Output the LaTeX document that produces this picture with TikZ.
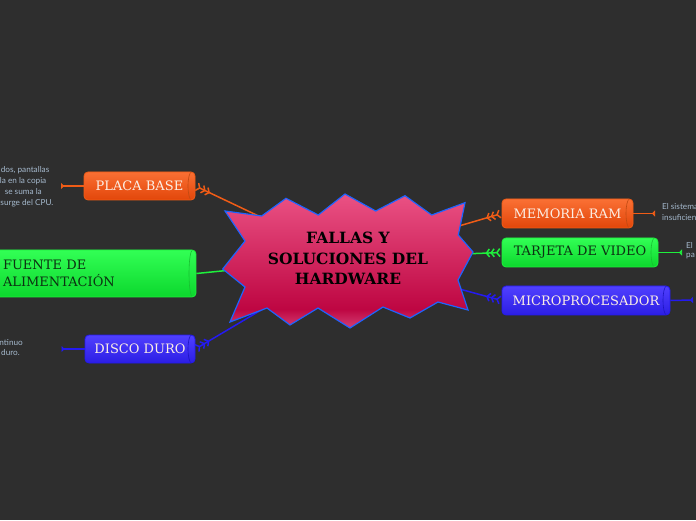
\documentclass[tikz,border=0pt]{standalone}
\usepackage{fontspec}
\setmainfont{Liberation Serif}
\newfontfamily\boxfont{DejaVu Serif}
\newfontfamily\starfont{DejaVu Serif}
\newfontfamily\notefont{Lato}
\usetikzlibrary{arrows.meta}
\pgfdeclarelayer{back}
\pgfdeclarelayer{bg}
\pgfsetlayers{back,bg,main}
\definecolor{bgc}{RGB}{46,46,46}
\definecolor{orgL}{RGB}{240,92,22}
\definecolor{orgT}{RGB}{250,112,52}
\definecolor{orgB}{RGB}{226,70,10}
\definecolor{grnL}{RGB}{30,240,60}
\definecolor{grnT}{RGB}{50,255,85}
\definecolor{grnB}{RGB}{12,215,45}
\definecolor{bluL}{RGB}{36,26,240}
\definecolor{bluT}{RGB}{80,64,255}
\definecolor{bluB}{RGB}{44,30,228}
\definecolor{notec}{RGB}{165,185,205}
\definecolor{starb}{RGB}{30,100,255}
\definecolor{pkT}{RGB}{234,82,132}
\definecolor{pkD}{RGB}{190,6,66}
\definecolor{pkL}{RGB}{212,64,116}
\definecolor{lbl}{RGB}{252,238,228}
\definecolor{lblg}{RGB}{12,50,18}
\pgfdeclareverticalshading{starsh}{100bp}{color(0bp)=(pkL); color(25bp)=(pkL); color(32bp)=(pkD); color(75bp)=(pkT); color(100bp)=(pkT)}
\tikzset{
  cyl/.style n args={3}{rectangle, rounded corners=4pt, draw=#1, line width=0.8pt,
    top color=#2, bottom color=#3, inner sep=0pt,
    path picture={\draw[#1!80!black, line width=0.6pt]
      ([xshift=-3.5pt]path picture bounding box.north east)
      arc[start angle=90, end angle=270, x radius=3.5pt, y radius=0.5*\pgfkeysvalueof{/pgf/minimum height}];}},
  cylo/.style={cyl={orgL}{orgT}{orgB}, text=lbl, font=\boxfont\fontsize{13}{14}\selectfont},
  cylg/.style={cyl={grnL}{grnT}{grnB}, text=lblg, font=\boxfont\fontsize{13}{14}\selectfont},
  cylb/.style={cyl={bluL}{bluT}{bluB}, text=lbl, font=\boxfont\fontsize{13}{14}\selectfont},
  note/.style={text=notec, font=\notefont\fontsize{8.2}{9}\selectfont, inner sep=0pt},
  feath/.style={{Straight Barb[reversed,length=3pt,width=8pt,sep=1pt]Straight Barb[reversed,length=3pt,width=8pt,sep=1pt]Straight Barb[reversed,length=3pt,width=8pt]}-},
  leaf/.style={-{Triangle[reversed,length=3pt,width=6pt]}},
  conn/.style={line width=1.5pt},
}
\begin{document}
\begin{tikzpicture}[x=1pt,y=1pt]
\useasboundingbox (0,0) rectangle (696,520);
\clip (0,0) rectangle (696,520);
\begin{pgfonlayer}{back}
\fill[bgc] (0,0) rectangle (696,520);
\end{pgfonlayer}

% central starburst
\path[shading=starsh, draw=starb, line width=1.2pt, line join=miter]
  (225,309) -- (261.7,304) -- (286,321.7) -- (318.3,305) -- (345,326) -- (375.7,309)
  -- (405,324.3) -- (431.7,305) -- (465,317.3) -- (458.3,285) -- (473,268) -- (458,240)
  -- (468,210) -- (438,218) -- (410,202) -- (383,213) -- (350,192) -- (318,212)
  -- (290,195) -- (267,212) -- (230,198) -- (245,233) -- (222.7,251) -- (245,279) -- cycle;
\node[font=\starfont\bfseries\fontsize{15.5}{20.5}\selectfont, align=center, text=black, inner sep=0pt] (center) at (348,261.5) {FALLAS Y\\SOLUCIONES DEL\\HARDWARE};

% branch boxes
\node[cylo, minimum width=111pt, minimum height=28pt] (placa) at (139.5,334) {PLACA BASE};
\node[cylg, minimum width=216pt, minimum height=47pt, align=left, text width=170pt, inner xsep=23pt, font=\boxfont\fontsize{13}{17}\selectfont] (fuente) at (88,246.5) {FUENTE DE\\ALIMENTACIÓN};
\node[cylb, minimum width=110pt, minimum height=28pt] (disco) at (140,171) {DISCO DURO};
\node[cylo, minimum width=131pt, minimum height=29pt] (ram) at (567.5,306.5) {MEMORIA RAM};
\node[cylg, minimum width=156pt, minimum height=29pt] (video) at (580,267.5) {TARJETA DE VIDEO};
\node[cylb, minimum width=168pt, minimum height=29pt] (micro) at (586,219.5) {MICROPROCESADOR};

% leaf ends
\coordinate (placaN) at (61,334);
\coordinate (discoN) at (61.5,171);
\coordinate (ramN) at (655,306.5);
\coordinate (videoN) at (682,267.5);
\coordinate (microN) at (693,220);

% notes
\node[note, anchor=east] (pn1) at (49.5,350) {dos, pantallas};
\node[note, anchor=east] (pn2) at (46.5,339) {la en la copia};
\node[note, anchor=east] (pn3) at (42,328) {se suma la};
\node[note, anchor=east] (pn4) at (53.5,317) {surge del CPU.};
\node[note, anchor=east] (dn1) at (23,177.5) {ntinuo};
\node[note, anchor=east] (dn2) at (20,167.5) {duro.};
\node[note, anchor=west] (rn1) at (662,313) {El sistema};
\node[note, anchor=west] (rn2) at (662,302) {insuficien};
\node[note, anchor=west] (vn1) at (686,275) {El};
\node[note, anchor=west] (vn2) at (686,263.5) {pa};

\begin{pgfonlayer}{bg}
\draw[conn, orgL, feath] (placa.east) -- (center.center);
\draw[conn, grnL] (fuente.east) -- (center.center);
\draw[conn, bluL, feath] (disco.east) -- (center.center);
\draw[conn, orgL, feath] (ram.west) -- (center.center);
\draw[conn, grnL, feath] (video.west) -- (center.center);
\draw[conn, bluL, feath] (micro.west) -- (center.center);
\draw[conn, orgL, leaf] (placa.west) -- (placaN);
\draw[conn, bluL, leaf] (disco.west) -- (discoN);
\draw[conn, orgL, leaf] (ram.east) -- (ramN);
\draw[conn, grnL, leaf] (video.east) -- (videoN);
\draw[conn, bluL, leaf] (micro.east) -- (microN);
\end{pgfonlayer}
\end{tikzpicture}
\end{document}
